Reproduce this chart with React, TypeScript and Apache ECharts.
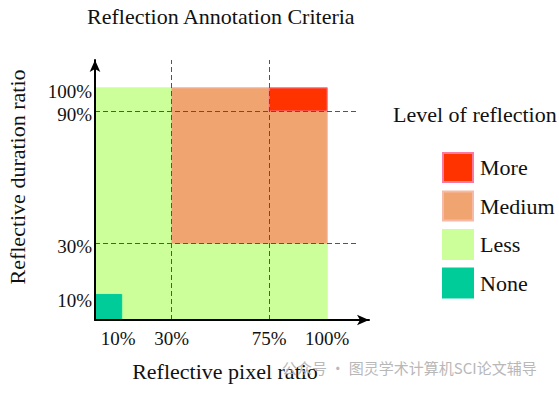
import { useEffect, useRef } from 'react';
import * as echarts from 'echarts';

// Legend categories (top to bottom)
const categories = ['More', 'Medium', 'Less', 'None'];
const categoryColors = ['#ff3300', '#f0a470', '#ccff99', '#00cc99'];
const categoryBorders = ['#ff7aa0', '#f7b9a8', '#ccff99', '#00cc99'];

// Regions: [xStart, yStart, xEnd, yEnd] in percent
const moreRegion = [75, 90, 100, 100];
const mediumRegion = [33, 33, 100, 100];
const lessRegion = [0, 0, 100, 100];
const noneRegion = [0, 0, 11.5, 11];

// Axis tick positions and labels
const xTickValues = [10, 33, 75, 100];
const xTickLabels = ['10%', '30%', '75%', '100%'];
const yTickValues = [10, 33, 90, 100];
const yTickLabels = ['10%', '30%', '90%', '100%'];

// Dashed guide lines
const xGuides = [33, 75];
const yGuides = [33, 90];

const X_MAX = 118;
const Y_MAX = 112;
const SERIF = '"Liberation Serif", "Times New Roman", serif';

export default function App() {
  const ref = useRef<HTMLDivElement>(null);

  useEffect(() => {
    if (!ref.current) return;
    const chart = echarts.init(ref.current, undefined, { renderer: 'svg' });

    const regions = [moreRegion, mediumRegion, lessRegion, noneRegion];
    const zOrder = [3, 2, 1, 4];

    const rectSeries = categories.map((name, i) => ({
      name,
      type: 'custom',
      z: zOrder[i],
      itemStyle: { color: categoryColors[i], borderColor: categoryBorders[i], borderWidth: 1 },
      encode: { x: [0, 2], y: [1, 3] },
      data: [regions[i]],
      renderItem: (_params: any, api: any) => {
        const p0 = api.coord([api.value(0), api.value(1)]);
        const p1 = api.coord([api.value(2), api.value(3)]);
        return {
          type: 'rect',
          shape: { x: p0[0], y: p1[1], width: p1[0] - p0[0], height: p0[1] - p1[1] },
          style: { fill: categoryColors[i], stroke: categoryBorders[i], lineWidth: 1 },
        };
      },
    }));

    const guideLines = [
      ...xGuides.map((x) => [{ coord: [x, 0] }, { coord: [x, Y_MAX] }]),
      ...yGuides.map((y) => [{ coord: [0, y] }, { coord: [113.7, y] }]),
    ];

    const axisLineStyle = {
      show: true,
      lineStyle: { color: '#000', width: 2 },
      symbol: ['none', 'arrow'],
      symbolSize: [8, 12],
    };

    const option: any = {
      animation: false,
      backgroundColor: '#ffffff',
      title: [
        {
          text: 'Reflection Annotation Criteria',
          left: 82,
          top: 0,
          textStyle: { fontFamily: SERIF, fontSize: 22, fontWeight: 'normal', color: '#111' },
        },
        {
          text: 'Level of reflection',
          left: 388,
          top: 98,
          textStyle: { fontFamily: SERIF, fontSize: 22, fontWeight: 'normal', color: '#111' },
        },
      ],
      legend: {
        data: categories,
        orient: 'vertical',
        left: 437,
        top: 147,
        icon: 'rect',
        itemWidth: 30,
        itemHeight: 29,
        itemGap: 7.5,
        selectedMode: false,
        textStyle: { fontFamily: SERIF, fontSize: 22, color: '#111', padding: [0, 0, 0, 2] },
      },
      grid: { left: 95, top: 60, width: 274, height: 260, containLabel: false },
      xAxis: {
        type: 'value',
        min: 0,
        max: X_MAX,
        z: 20,
        name: 'Reflective pixel ratio',
        nameLocation: 'middle',
        nameGap: 40,
        nameTextStyle: { fontFamily: SERIF, fontSize: 22, color: '#111', padding: [0, 14, 0, 0] },
        splitLine: { show: false },
        axisTick: { show: false },
        axisLine: axisLineStyle,
        axisLabel: {
          customValues: xTickValues,
          formatter: (v: number) => {
            const i = xTickValues.indexOf(v);
            return i >= 0 ? xTickLabels[i] : '';
          },
          margin: 9,
          fontFamily: SERIF,
          fontSize: 19,
          color: '#111',
        },
      },
      yAxis: {
        type: 'value',
        min: 0,
        max: Y_MAX,
        z: 20,
        name: 'Reflective duration ratio',
        nameLocation: 'middle',
        nameGap: 67,
        nameTextStyle: { fontFamily: SERIF, fontSize: 22, color: '#111', padding: [0, 0, 0, 26] },
        splitLine: { show: false },
        axisTick: { show: false },
        axisLine: axisLineStyle,
        axisLabel: {
          customValues: yTickValues,
          formatter: (v: number) => {
            const i = yTickValues.indexOf(v);
            return i >= 0 ? '{t|' + yTickLabels[i] + '}' : '';
          },
          margin: 3,
          rich: {
            t: { fontFamily: SERIF, fontSize: 19, color: '#111', padding: [7, 0, 0, 0] },
          },
          fontFamily: SERIF,
          fontSize: 19,
          color: '#111',
        },
      },
      series: [
        ...rectSeries,
        {
          name: 'guides',
          type: 'line',
          data: [],
          z: 10,
          markLine: {
            silent: true,
            symbol: ['none', 'none'],
            label: { show: false },
            lineStyle: { color: '#555', width: 1, type: [5, 3] },
            data: guideLines,
          },
        },
      ],
      graphic: [
        {
          type: 'text',
          left: 282,
          top: 360,
          z: 100,
          style: {
            text: '公众号 · 图灵学术计算机SCI论文辅导',
            fontFamily: '"Noto Sans CJK SC", sans-serif',
            fontSize: 15,
            fill: '#b8b8b8',
          },
        },
      ],
    };

    chart.setOption(option);
    return () => chart.dispose();
  }, []);

  return (
    <div
      ref={ref}
      style={{ position: 'fixed', left: 0, top: 0, width: 559, height: 394, background: '#fff' }}
    />
  );
}
